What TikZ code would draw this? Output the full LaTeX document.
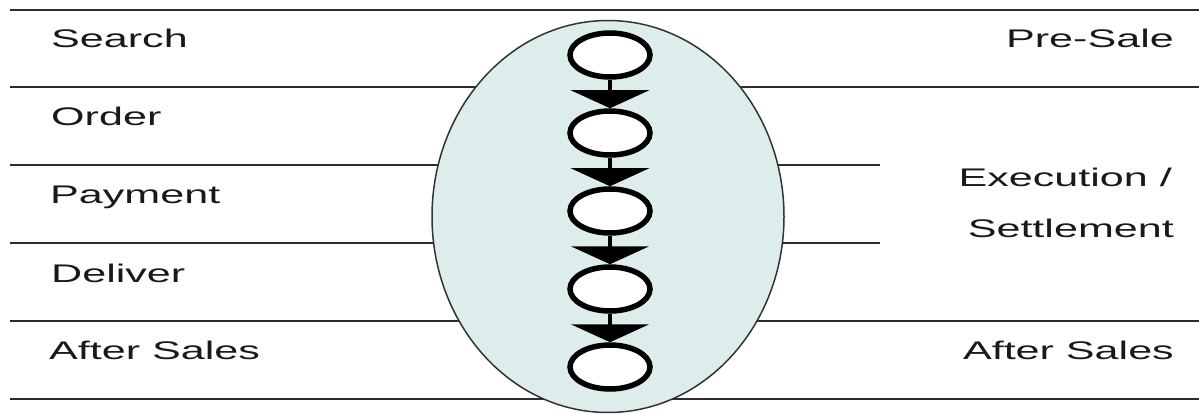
\documentclass[tikz,border=0pt]{standalone}
\usepackage{fontspec}
\setmainfont{Liberation Sans}
\newfontfamily\widefont[FakeStretch=1.69]{Liberation Sans}
\usetikzlibrary{shapes.geometric,arrows.meta}
\definecolor{ovalfill}{RGB}{221,237,235}
\definecolor{rulegray}{RGB}{45,45,45}
\definecolor{txtgray}{RGB}{25,25,25}
\tikzset{
  rule/.style={draw=rulegray, line width=2pt},
  lbl/.style={inner sep=0pt, text=txtgray, font=\widefont\fontsize{25.5}{30}\selectfont},
  phase/.style={ellipse, draw=black, fill=white, line width=5.5pt, minimum width=80pt, minimum height=44pt, inner sep=0pt},
  flow/.style={line width=4pt, draw=black, -{Triangle[width=78pt,length=18pt]}},
  oval/.style={ellipse, draw=black!80, fill=ovalfill, line width=1.5pt, minimum width=352pt, minimum height=392pt, inner sep=0pt}
}
\begin{document}
\begin{tikzpicture}[x=1pt,y=-1pt]
\useasboundingbox (0,0) rectangle (1199,414);
% horizontal rules
\draw[rule] (10,10) -- (1199,10);
\draw[rule] (10,87) -- (1199,87);
\draw[rule] (10,165) -- (880,165);
\draw[rule] (10,243) -- (880,243);
\draw[rule] (10,321) -- (1199,321);
\draw[rule] (10,399) -- (1199,399);
% big oval
\node[oval] (big) at (608,216.5) {};
% phases
\node[phase] (c1) at (610,55) {};
\node[phase] (c2) at (610,133) {};
\node[phase] (c3) at (610,211) {};
\node[phase] (c4) at (610,289) {};
\node[phase] (c5) at (610,367) {};
\draw[flow] (c1.south) -- (c2.north);
\draw[flow] (c2.south) -- (c3.north);
\draw[flow] (c3.south) -- (c4.north);
\draw[flow] (c4.south) -- (c5.north);
% left labels
\node[lbl, anchor=base west] (l1) at (51,48) {Search};
\node[lbl, anchor=base west] (l2) at (51,126) {Order};
\node[lbl, anchor=base west] (l3) at (50,204) {Payment};
\node[lbl, anchor=base west] (l4) at (51,282) {Deliver};
\node[lbl, anchor=base west] (l5) at (49,359) {After Sales};
% right labels
\node[lbl, anchor=base east] (r1) at (1174,48) {Pre-Sale};
\node[lbl, anchor=base east] (r2) at (1172,187) {Execution /};
\node[lbl, anchor=base east] (r3) at (1174,237) {Settlement};
\node[lbl, anchor=base east] (r4) at (1174,359) {After Sales};
\end{tikzpicture}
\end{document}
